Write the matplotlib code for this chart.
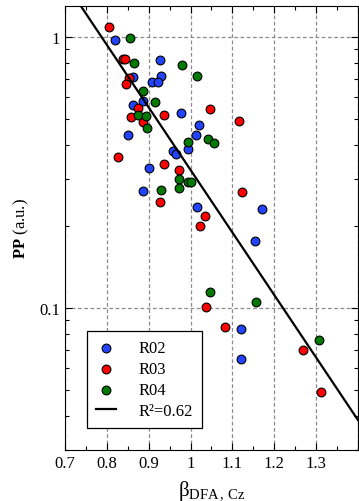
import numpy as np
import matplotlib
matplotlib.use('Agg')
import matplotlib.pyplot as plt
from matplotlib.ticker import LogLocator, FuncFormatter, MultipleLocator, NullFormatter

plt.rcParams['font.family'] = ['Liberation Serif', 'DejaVu Serif']
plt.rcParams['mathtext.fontset'] = 'custom'
plt.rcParams['mathtext.rm'] = 'Liberation Serif'
plt.rcParams['mathtext.it'] = 'Liberation Serif:italic'
plt.rcParams['mathtext.bf'] = 'Liberation Serif:bold'

# R02 (blue)
beta_r02 = [0.820, 0.928, 0.863, 0.929, 0.909, 0.923, 0.887, 0.863, 0.850, 0.958, 0.965,
            0.900, 0.887, 0.978, 1.020, 1.013, 0.995, 1.015, 1.171, 1.154, 1.120, 1.120]
pp_r02 = [0.975, 0.824, 0.710, 0.720, 0.680, 0.684, 0.580, 0.563, 0.436, 0.379, 0.371,
          0.328, 0.271, 0.525, 0.473, 0.434, 0.385, 0.235, 0.231, 0.176, 0.0839, 0.0648]

# R03 (red)
beta_r03 = [0.806, 0.838, 0.844, 0.852, 0.845, 0.875, 0.857, 0.936, 0.886, 0.827, 0.937,
            0.926, 1.047, 1.117, 0.973, 1.123, 1.035, 1.023, 1.038, 1.083, 1.268, 1.312]
pp_r03 = [1.092, 0.831, 0.831, 0.703, 0.673, 0.545, 0.505, 0.515, 0.484, 0.361, 0.340,
          0.246, 0.540, 0.489, 0.323, 0.268, 0.219, 0.201, 0.1012, 0.0849, 0.0703, 0.0489]

# R04 (green)
beta_r04 = [0.855, 0.865, 0.886, 0.915, 0.875, 0.894, 0.897, 0.930, 0.979, 1.015,
            1.042, 1.056, 0.995, 0.973, 0.993, 1.000, 0.972, 1.046, 1.157, 1.307]
pp_r04 = [0.992, 0.798, 0.630, 0.574, 0.515, 0.513, 0.460, 0.272, 0.788, 0.718,
          0.421, 0.405, 0.410, 0.300, 0.292, 0.292, 0.278, 0.1147, 0.1051, 0.0761]

# fit: log10(PP) = fit_a + fit_b * beta
fit_a = 1.8155
fit_b = -2.306
fit_label = 'R²=0.62'

fig = plt.figure(figsize=(3.59, 5.02), dpi=100)
ax = fig.add_axes([0.181, 0.102, 0.816, 0.884])

ms = 40
ax.scatter(beta_r02, pp_r02, s=ms, c='#2244ff', edgecolors='k', linewidths=0.8, zorder=3, label='R02')
ax.scatter(beta_r03, pp_r03, s=ms, c='#ff0000', edgecolors='k', linewidths=0.8, zorder=3, label='R03')
ax.scatter(beta_r04, pp_r04, s=ms, c='#007a00', edgecolors='k', linewidths=0.8, zorder=3, label='R04')

xx = np.linspace(0.7, 1.4, 50)
ax.plot(xx, 10**(fit_a + fit_b*xx), 'k-', lw=1.6, zorder=4, label=fit_label)

ax.set_yscale('log')
ax.set_xlim(0.7, 1.4)
ax.set_ylim(0.03, 1.3)

ax.xaxis.set_major_locator(MultipleLocator(0.1))
ax.xaxis.set_minor_locator(MultipleLocator(0.05))
ax.xaxis.set_major_formatter(FuncFormatter(lambda v, p: '' if v > 1.35 else ('1' if abs(v-1) < 1e-6 else '%g' % round(v, 2))))
ax.yaxis.set_major_locator(LogLocator(base=10))
ax.yaxis.set_minor_locator(LogLocator(base=10, subs=np.arange(2, 10)))
ax.yaxis.set_major_formatter(FuncFormatter(lambda v, p: '%g' % v))
ax.yaxis.set_minor_formatter(NullFormatter())

ax.tick_params(which='both', direction='in', top=True, right=True, labelsize=12)
ax.tick_params(which='major', length=5, width=0.8)
ax.tick_params(which='minor', length=3, width=0.8)

ax.grid(True, which='major', linestyle=(0, (3, 2)), color='0.55', lw=0.9)

ax.set_xlabel(r'β$_{\mathrm{DFA\,,\,Cz}}$', fontsize=15, labelpad=6)
ax.set_ylabel(r'$\mathbf{PP}$ (a.u.)', fontsize=12, labelpad=6)

leg = ax.legend(loc='lower left', bbox_to_anchor=(0.075, 0.049), fontsize=12,
                fancybox=False, edgecolor='k', framealpha=1, borderaxespad=0,
                handlelength=1.2, handletextpad=1.35, labelspacing=0.3, borderpad=0.55)
leg.get_frame().set_linewidth(0.9)

fig.savefig('out.png', dpi=100)
